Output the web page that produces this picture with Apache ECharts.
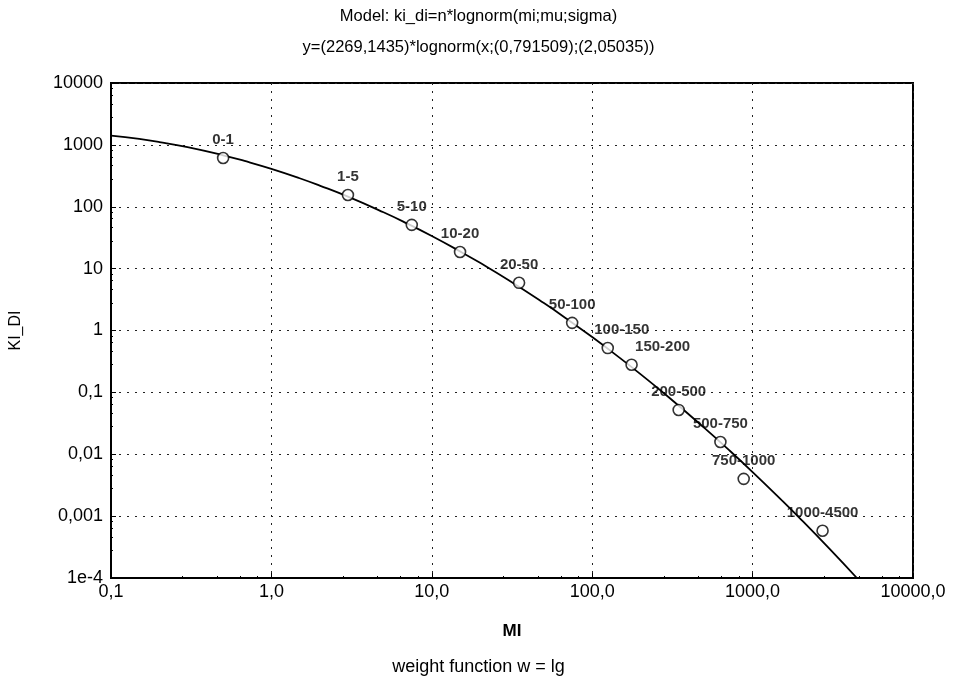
<!DOCTYPE html>
<html>
<head>
<meta charset="utf-8">
<script src="https://cdn.jsdelivr.net/npm/echarts@6/dist/echarts.min.js"></script>
<style>
  html, body { margin: 0; padding: 0; background: #fff; }
  #chart { width: 957px; height: 684px; }
</style>
</head>
<body>
<div id="chart"></div>
<script>
// observed points (class midpoints) and their labels
const classLabels = ['0-1', '1-5', '5-10', '10-20', '20-50', '50-100', '100-150', '150-200',
  '200-500', '500-750', '750-1000', '1000-4500'];
const pointX = [0.5, 3, 7.5, 15, 35, 75, 125, 176, 346, 630, 880, 2730];
const pointY = [614, 155, 51, 18.6, 5.9, 1.33, 0.52, 0.28, 0.052, 0.0158, 0.0040, 0.00058];

// fitted curve
const curveX = [0.1, 0.15, 0.2, 0.3, 0.5, 0.7, 1, 1.5, 2, 3, 5, 7, 10, 15, 20, 30, 50, 70,
  100, 150, 200, 300, 500, 700, 1000, 1500, 2000, 3000, 4500];
const curveY = [1414, 1246, 1112, 917, 679, 539, 410, 289, 220, 145.5, 81.5, 53.8, 33.6, 19.0,
  12.4, 6.55, 2.77, 1.52, 0.783, 0.354, 0.197, 0.0834, 0.0267, 0.0122, 0.00516, 0.00187,
  0.00089, 0.000301, 0.0000982];

const yTickText = {
  '10000': '10000', '1000': '1000', '100': '100', '10': '10', '1': '1',
  '0.1': '0,1', '0.01': '0,01', '0.001': '0,001', '0.0001': '1e-4'
};
const xTickText = {
  '0.1': '0,1', '1': '1,0', '10': '10,0', '100': '100,0', '1000': '1000,0', '10000': '10000,0'
};

// a couple of labels sit to the right of their point in the original
const labelShift = { '100-150': 14, '150-200': 31 };

const font = 'Liberation Sans, Arial, sans-serif';
const chart = echarts.init(document.getElementById('chart'));

const gridLine = { show: true, lineStyle: { color: '#222', width: 1, type: [2, 6] } };

chart.setOption({
  backgroundColor: '#fff',
  animation: false,
  title: [
    { text: 'Model: ki_di=n*lognorm(mi;mu;sigma)', left: 'center', top: 3,
      textStyle: { fontFamily: font, fontSize: 16.5, fontWeight: 'normal', color: '#000' } },
    { text: 'y=(2269,1435)*lognorm(x;(0,791509);(2,05035))', left: 'center', top: 34,
      textStyle: { fontFamily: font, fontSize: 16.5, fontWeight: 'normal', color: '#000' } },
    { text: 'weight function w = lg', left: 'center', top: 653,
      textStyle: { fontFamily: font, fontSize: 18, fontWeight: 'normal', color: '#000' } }
  ],
  grid: { left: 111, right: 44, top: 83, bottom: 106, show: true, borderColor: '#000', borderWidth: 2 },
  xAxis: {
    type: 'log', logBase: 10, min: 0.1, max: 10000,
    name: 'MI', nameLocation: 'middle', nameGap: 45,
    nameTextStyle: { fontFamily: font, fontSize: 17, fontWeight: 'bold', color: '#000' },
    axisLine: { lineStyle: { color: '#000', width: 2 } },
    axisTick: { inside: true, length: 5, lineStyle: { color: '#000' } },
    minorTick: { show: true, splitNumber: 5, length: 2, lineStyle: { color: '#000' } },
    axisLabel: { margin: 5, fontFamily: font, fontSize: 18, color: '#000',
      formatter: v => xTickText[String(+v.toPrecision(6))] || '' },
    splitLine: gridLine
  },
  yAxis: {
    type: 'log', logBase: 10, min: 0.0001, max: 10000,
    name: 'KI_DI', nameLocation: 'middle', nameGap: 87, nameRotate: 90,
    nameTextStyle: { fontFamily: font, fontSize: 16, color: '#000' },
    axisLine: { lineStyle: { color: '#000', width: 2 } },
    axisTick: { inside: true, length: 5, lineStyle: { color: '#000' } },
    minorTick: { show: true, splitNumber: 5, length: 2, lineStyle: { color: '#000' } },
    axisLabel: { margin: 8, fontFamily: font, fontSize: 18, color: '#000',
      formatter: v => yTickText[String(+v.toPrecision(6))] || '' },
    splitLine: gridLine
  },
  series: [
    {
      type: 'line',
      data: curveX.map((x, i) => [x, curveY[i]]),
      smooth: true,
      showSymbol: false,
      clip: true,
      lineStyle: { color: '#000', width: 1.8 },
      z: 2
    },
    {
      type: 'scatter',
      data: pointX.map((x, i) => ({
        value: [x, pointY[i]],
        label: { offset: [labelShift[classLabels[i]] || 0, 0] }
      })),
      symbol: 'circle',
      symbolSize: 11,
      itemStyle: { color: '#fff', borderColor: '#000', borderWidth: 1.6 },
      label: {
        show: true, position: 'top', distance: 4,
        fontFamily: font, fontSize: 15, fontWeight: 'bold', color: '#000',
        formatter: p => classLabels[p.dataIndex]
      },
      z: 3
    }
  ]
});
</script>
</body>
</html>
